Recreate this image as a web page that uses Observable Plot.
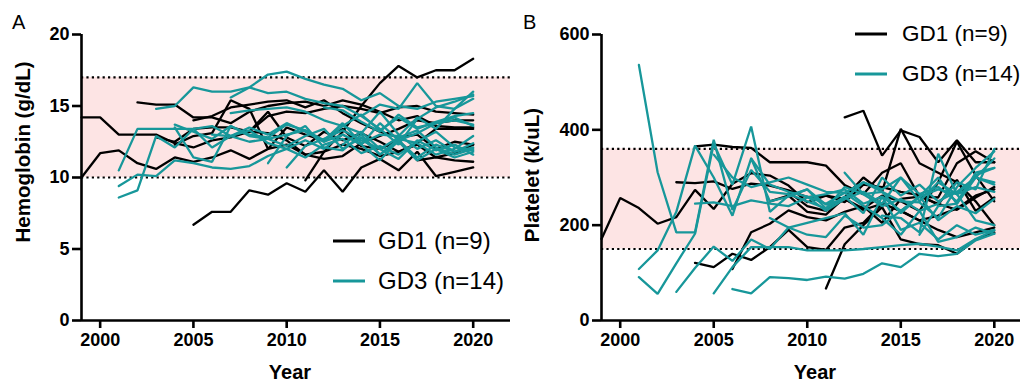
<!DOCTYPE html>
<html><head><meta charset="utf-8">
<script src="https://cdn.jsdelivr.net/npm/d3@7"></script>
<script src="https://cdn.jsdelivr.net/npm/@observablehq/plot@0.6"></script>
<style>
body{margin:0;background:#fff;}
#wrap{position:relative;width:1024px;height:384px;overflow:hidden;font-family:"Liberation Sans",Arial,sans-serif;color:#000;}
.panel{position:absolute;top:0;}
.t{position:absolute;white-space:nowrap;line-height:1;}
.ylab{font-weight:bold;font-size:20.5px;transform:translate(-50%,-50%) rotate(-90deg);}
.xlab{font-weight:bold;font-size:20px;transform:translate(-50%,-50%);}
.letter{font-size:20px;}
.leg{font-size:24px;transform:translateY(-50%);}
.legB{font-size:22.5px;}
.sw{position:absolute;height:3px;width:32px;transform:translateY(-50%);}
</style></head><body><div id="wrap"></div>
<script>
const GD1_COLOR = "#000000";
const GD3_COLOR = "#17979a";
const groupNames = ["GD1 (n=9)", "GD3 (n=14)"];
const xTicks = [2000, 2005, 2010, 2015, 2020];

// Hemoglobin (g/dL): [start year, yearly values]
const hgbGD1 = [
  [1999, [14.2,14.2,13.0,13.0,13.0,12.4,12.1,12.6,12.8,13.2,14.3,14.6,14.5,14.8,15.0,14.8,14.5,14.9,15.0,14.6,14.5,14.4]],
  [1999, [10.0,11.7,11.9,11.0,10.6,11.4,11.1,11.4,11.9,11.3,12.0,12.3,11.6,11.8,12.3,12.0,11.5,11.8,12.3,11.4,11.2,11.1]],
  [2002, [15.25,15.1,15.1,14.2,14.2,13.8,14.6,15.0,15.2,15.3,15.0,15.4,15.1,14.6,14.0,14.3,13.6,13.5,13.5]],
  [2005, [6.7,7.6,7.6,9.1,8.8,9.6,9.0,10.5,9.0,10.7,11.3,10.5,11.8,10.1,10.4,10.7]],
  [2011, [9.8,11.8,13.2,15.0,16.6,17.8,17.0,17.5,17.5,18.3]],
  [2004, [12.3,12.9,13.1,15.4,14.8,12.0,13.5,13.0,12.6,13.4,12.2,12.0,12.6,11.2,11.4,11.7,12.3]],
  [2003, [12.8,12.5,13.4,13.5,13.5,13.2,13.1,12.6,11.6,11.3,11.5,12.4,12.9,13.4,14.0,13.8,14.0,14.0]],
  [2005, [14.0,14.3,14.9,15.1,15.3,15.4,14.9,15.4,14.5,13.8,13.2,12.8,13.0,12.0,12.5,12.3]],
  [2008, [13.2,14.6,12.8,12.2,13.2,12.6,13.1,12.5,11.8,12.4,13.4,13.4,13.4]]
];
const hgbGD3 = [
  [2001, [10.5,13.4,13.4,13.4,13.4,12.1,12.9,12.5,12.7,13.0,13.3,12.6,13.8,12.4,13.0,12.9,14.2,13.4,14.8,15.5]],
  [2001, [9.4,10.2,10.1,11.2,11.0,10.7,10.6,10.8,11.5,12.0,12.6,12.0,13.0,12.3,11.2,12.6,11.4,12.3,11.8,12.1]],
  [2001, [8.6,9.1,12.9,12.1,13.4,13.6,12.9,13.5,13.0,13.8,13.2,12.5,13.6,13.1,14.6,13.0,12.0,12.6,11.8,12.4]],
  [2003, [14.8,15.0,16.3,16.0,16.0,16.3,17.2,17.4,16.9,16.5,16.2,15.4,15.9,15.0,14.8,15.3,15.5,15.7]],
  [2007, [15.6,16.3,15.9,16.0,15.5,15.2,15.0,14.3,15.1,14.8,16.6,15.0,14.8,16.0]],
  [2007, [14.5,14.7,14.8,14.9,14.6,14.0,13.6,14.4,13.3,14.2,13.4,13.9,14.3,14.5]],
  [2004, [13.7,13.2,12.7,13.6,13.0,12.8,13.7,13.3,12.5,13.0,12.3,13.8,12.6,13.1,13.8,14.2,13.6]],
  [2004, [13.5,11.4,11.1,13.6,12.9,12.7,12.2,12.9,13.4,12.0,12.8,11.6,12.5,11.2,12.0,11.4,11.8]],
  [2009, [11.0,12.9,13.6,12.1,11.9,13.0,11.6,12.7,12.4,11.6,12.0,12.9]],
  [2006, [13.0,12.9,13.3,12.4,12.0,11.4,12.3,12.7,11.7,12.2,11.6,12.5,13.2,12.1,11.9]],
  [2010, [10.7,12.2,12.7,13.3,12.6,12.0,11.3,12.6,11.9,12.3,11.6]],
  [2012, [14.9,14.7,13.9,13.2,14.4,13.5,13.8,14.0,13.7]],
  [2013, [12.3,13.2,12.0,12.8,13.3,12.1,11.6,12.0]],
  [2014, [14.3,13.4,12.3,14.1,14.9,15.3,15.8]]
];

// Platelet (k/uL)
const pltGD1 = [
  [1999, [171,257,236,203,217,274,234,287,309,304,283,248,262,255,232,245,230,210,220,235,262,275]],
  [2003, [290,288,292,276,287,283,273,259,262,248,285,280,270,263,243,295,230,258]],
  [2004, [365,369,364,362,332,332,332,325,284,265,310,330,260,258,330,355,332]],
  [2012, [426,440,346,399,385,332,378,332,332]],
  [2004, [121,112,140,127,154,190,154,148,195,205,245,230,210,190,175,185,195]],
  [2006, [108,185,203,231,217,210,228,240,205,255,260,245,232,258,280]],
  [2011, [67,160,200,238,170,160,158,140,170,185]],
  [2008, [250,262,228,222,258,300,270,402,330,310,290,250,200]],
  [2009, [270,240,230,255,235,262,250,230,290,375,305,250]]
];
const pltGD3 = [
  [2001, [536,311,185,185,379,232,316,270,265,250,235,260,225,300,262,285,250,270,300,290]],
  [2001, [108,147,228,367,300,220,340,250,260,275,235,280,265,240,255,230,245,290,275,360]],
  [2001, [91,56,120,182,371,285,407,228,262,275,243,255,290,270,225,260,300,245,310,320]],
  [2003, [60,110,155,125,170,150,195,180,175,220,195,200,230,260,210,240,225,255]],
  [2005, [57,112,154,154,154,147,147,147,150,154,158,161,155,147,171,189]],
  [2006, [66,57,91,89,85,92,88,98,120,112,140,135,140,168,182]],
  [2004, [245,248,240,252,245,240,258,265,275,245,260,230,260,275,265,280,270]],
  [2007, [340,285,270,260,230,255,270,245,300,250,290,265,300,340]],
  [2005, [348,300,280,290,300,285,270,268,290,275,300,265,280,250,305,320]],
  [2008, [215,195,205,215,225,180,260,190,205,170,200,180,190]],
  [2010, [260,245,268,240,215,180,230,165,175,195,182]],
  [2012, [310,265,270,250,248,215,280,320,355]],
  [2014, [220,215,185,350,265,210,200]],
  [2016, [180,240,245,300,285]]
];

function toRows(series, group) {
  const rows = [];
  series.forEach(([start, vals], i) => {
    vals.forEach((v, j) => rows.push({id: group + i, group, year: start + j, value: v}));
  });
  return rows;
}

function panel({gd1, gd3, xDomain, yDomain, yTicks, band, marginLeft, marginRight}) {
  const r1 = toRows(gd1, "GD1"), r3 = toRows(gd3, "GD3");
  return Plot.plot({
    width: 512, height: 384,
    marginLeft, marginRight, marginTop: 34, marginBottom: 64,
    x: {domain: xDomain},
    y: {domain: yDomain},
    style: {fontFamily: "'Liberation Sans', Arial, sans-serif", fontSize: "18px", fontWeight: "bold", color: "#000", background: "transparent", overflow: "visible"},
    marks: [
      Plot.rect([band], {x1: () => xDomain[0], x2: () => xDomain[1], y1: d => d[0], y2: d => d[1], fill: "#fde4e4"}),
      Plot.ruleY(band, {stroke: "#000", strokeWidth: 2.2, strokeDasharray: "2.2,3.2"}),
      Plot.line(r1, {x: "year", y: "value", z: "id", stroke: GD1_COLOR, strokeWidth: 2.3, strokeLinejoin: "miter"}),
      Plot.line(r3, {x: "year", y: "value", z: "id", stroke: GD3_COLOR, strokeWidth: 2.3, strokeLinejoin: "miter"}),
      Plot.ruleX([xDomain[0]], {stroke: "#000", strokeWidth: 2.6}),
      Plot.ruleY([yDomain[0]], {stroke: "#000", strokeWidth: 2.6}),
      Plot.axisY({ticks: yTicks, tickSize: 9, tickPadding: 3, strokeWidth: 2.6, label: null}),
      Plot.axisX({ticks: xTicks, tickSize: 8, tickPadding: 5, tickFormat: "d", strokeWidth: 2.6, label: null})
    ]
  });
}

const wrap = document.getElementById("wrap");
function add(el, left) { el.classList.add("panel"); el.style.left = left + "px"; wrap.appendChild(el); }

add(panel({gd1: hgbGD1, gd3: hgbGD3, xDomain: [1999, 2022], yDomain: [0, 20], yTicks: [0,5,10,15,20], band: [10, 17], marginLeft: 81, marginRight: 2}), 0);
add(panel({gd1: pltGD1, gd3: pltGD3, xDomain: [1999, 2021.4], yDomain: [0, 600], yTicks: [0,200,400,600], band: [150, 360], marginLeft: 89, marginRight: 4}), 512);

function txt(cls, s, x, y) {
  const d = document.createElement("div");
  d.className = "t " + cls; d.textContent = s;
  d.style.left = x + "px"; d.style.top = y + "px";
  wrap.appendChild(d); return d;
}
function swatch(color, x, y) {
  const d = document.createElement("div");
  d.className = "sw"; d.style.background = color;
  d.style.left = x + "px"; d.style.top = y + "px";
  wrap.appendChild(d);
}
txt("letter", "A", 12, 12);
txt("letter", "B", 523, 12);
txt("ylab", "Hemoglobin (g/dL)", 23, 152);
txt("ylab", "Platelet (k/uL)", 532, 175);
txt("xlab", "Year", 290, 372);
txt("xlab", "Year", 815, 372);

// legends
swatch(GD1_COLOR, 333, 241); txt("leg", groupNames[0], 378, 241);
swatch(GD3_COLOR, 333, 281); txt("leg", groupNames[1], 378, 281);
swatch(GD1_COLOR, 855, 34); txt("leg legB", groupNames[0], 902, 34);
swatch(GD3_COLOR, 855, 74); txt("leg legB", groupNames[1], 902, 74);
</script>
</body></html>
